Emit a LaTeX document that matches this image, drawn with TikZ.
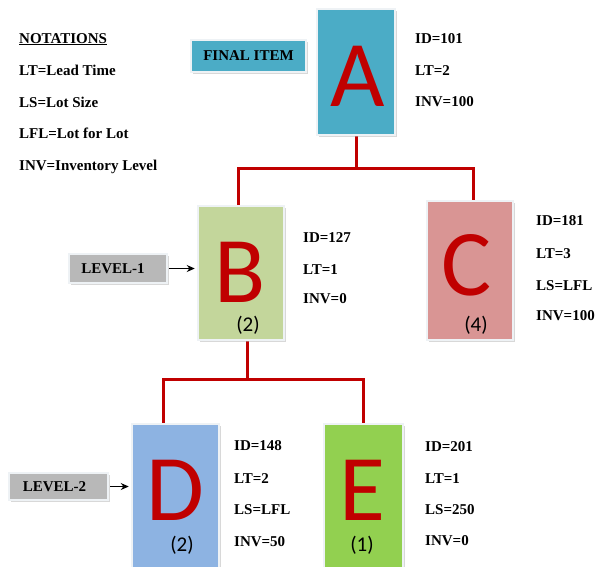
\documentclass[tikz,border=0pt]{standalone}
\usepackage{fontspec}
\setmainfont{Liberation Serif}
\newfontfamily\carl{Carlito}
\usetikzlibrary{shadows,arrows.meta,backgrounds}
\definecolor{ablue}{HTML}{4BACC6}
\definecolor{bgreen}{HTML}{C3D69B}
\definecolor{cpink}{HTML}{D99594}
\definecolor{dblue}{HTML}{8DB3E2}
\definecolor{egreen}{HTML}{92D050}
\definecolor{lvgray}{HTML}{B8B8B8}
\definecolor{redc}{HTML}{C00000}
\definecolor{framec}{HTML}{EEF2F5}
\begin{document}
\begin{tikzpicture}[x=1pt,y=-1pt,
  box/.style={draw=framec, line width=2.5pt, inner sep=0pt,
    drop shadow={shadow xshift=1.5pt,shadow yshift=-1.5pt,fill=black!30}},
  letter/.style={inner sep=0pt, text=redc, font=\carl\fontsize{94}{94}\selectfont},
  count/.style={inner sep=0pt, text=black, font=\carl\fontsize{21}{21}\selectfont},
  lab/.style={anchor=base west, inner sep=0pt, font=\bfseries\fontsize{15}{16}\selectfont},
  tag/.style={box, font=\bfseries\fontsize{15}{16}\selectfont},
  conn/.style={draw=redc, line width=3pt},
  arr/.style={-{Stealth[length=8pt,width=7pt]}, line width=1pt, shorten <=1pt, shorten >=2pt}]
\useasboundingbox (0,0) rectangle (604,566);

% notations
\node[lab] (n0) at (19,43) {\underline{NOTATIONS}};
\node[lab] (n1) at (19,75) {LT=Lead Time};
\node[lab] (n2) at (19,107) {LS=Lot Size};
\node[lab] (n3) at (19,138) {LFL=Lot for Lot};
\node[lab] (n4) at (19,170) {INV=Inventory Level};

% tags
\node[tag, fill=ablue, minimum width=115, minimum height=32] (fin) at (248.5,56) {FINAL ITEM};
\node[tag, fill=lvgray, minimum width=98, minimum height=29] (L1) at (118,268.5) {LEVEL-1\hspace*{10pt}};
\node[tag, fill=lvgray, minimum width=99, minimum height=27] (L2) at (58.5,486.5) {LEVEL-2\hspace*{8pt}};

% boxes
\node[box, fill=ablue, minimum width=78, minimum height=126] (Abox) at (356,72) {};
\node[box, fill=bgreen, minimum width=86, minimum height=134] (Bbox) at (241,273) {};
\node[box, fill=cpink, minimum width=86, minimum height=139] (Cbox) at (470,270.5) {};
\node[box, fill=dblue, minimum width=87, minimum height=148] (Dbox) at (175.5,498) {};
\node[box, fill=egreen, minimum width=79, minimum height=148] (Ebox) at (363.5,498) {};

% letters
\node[letter] (Aletter) at (358,76) {A};
\node[letter] (Bletter) at (240,272) {B};
\node[letter] (Cletter) at (467,265) {C};
\node[letter] (Dletter) at (175,490) {D};
\node[letter] (Eletter) at (362,490) {E};

% counts
\node[count] (Bcount) at (248,325) {(2)};
\node[count] (Ccount) at (476,325) {(4)};
\node[count] (Dcount) at (182,545) {(2)};
\node[count] (Ecount) at (362,545) {(1)};

% connectors
\coordinate (jA) at (356,168);
\coordinate (jB) at (247,379);
\begin{scope}[on background layer]
\fill[white] (0,0) rectangle (604,566);
\draw[conn] (Abox.south) -- (jA);
\draw[conn] ([xshift=-3pt]Bbox.north) |- (jA) -| ([xshift=3pt]Cbox.north);
\draw[conn] ([xshift=6pt]Bbox.south) -- (jB);
\draw[conn] ([xshift=-12.5pt]Dbox.north) |- (jB) -| (Ebox.north);
\end{scope}

% level arrows
\draw[arr] (L1.east) -- (L1.east -| Bbox.west);
\draw[arr] (L2.east) -- (L2.east -| Dbox.west);

% labels A
\node[lab] (a1) at (415,43) {ID=101};
\node[lab] (a2) at (415,75) {LT=2};
\node[lab] (a3) at (415,106) {INV=100};
% labels B
\node[lab] (b1) at (303,242) {ID=127};
\node[lab] (b2) at (303,274) {LT=1};
\node[lab] (b3) at (303,303) {INV=0};
% labels C
\node[lab] (c1) at (536,225) {ID=181};
\node[lab] (c2) at (536,258) {LT=3};
\node[lab] (c3) at (536,290) {LS=LFL};
\node[lab] (c4) at (536,320) {INV=100};
% labels D
\node[lab] (d1) at (234,450) {ID=148};
\node[lab] (d2) at (234,483) {LT=2};
\node[lab] (d3) at (234,514) {LS=LFL};
\node[lab] (d4) at (234,546) {INV=50};
% labels E
\node[lab] (e1) at (425,451) {ID=201};
\node[lab] (e2) at (425,483) {LT=1};
\node[lab] (e3) at (425,514) {LS=250};
\node[lab] (e4) at (425,545) {INV=0};
\end{tikzpicture}
\end{document}
